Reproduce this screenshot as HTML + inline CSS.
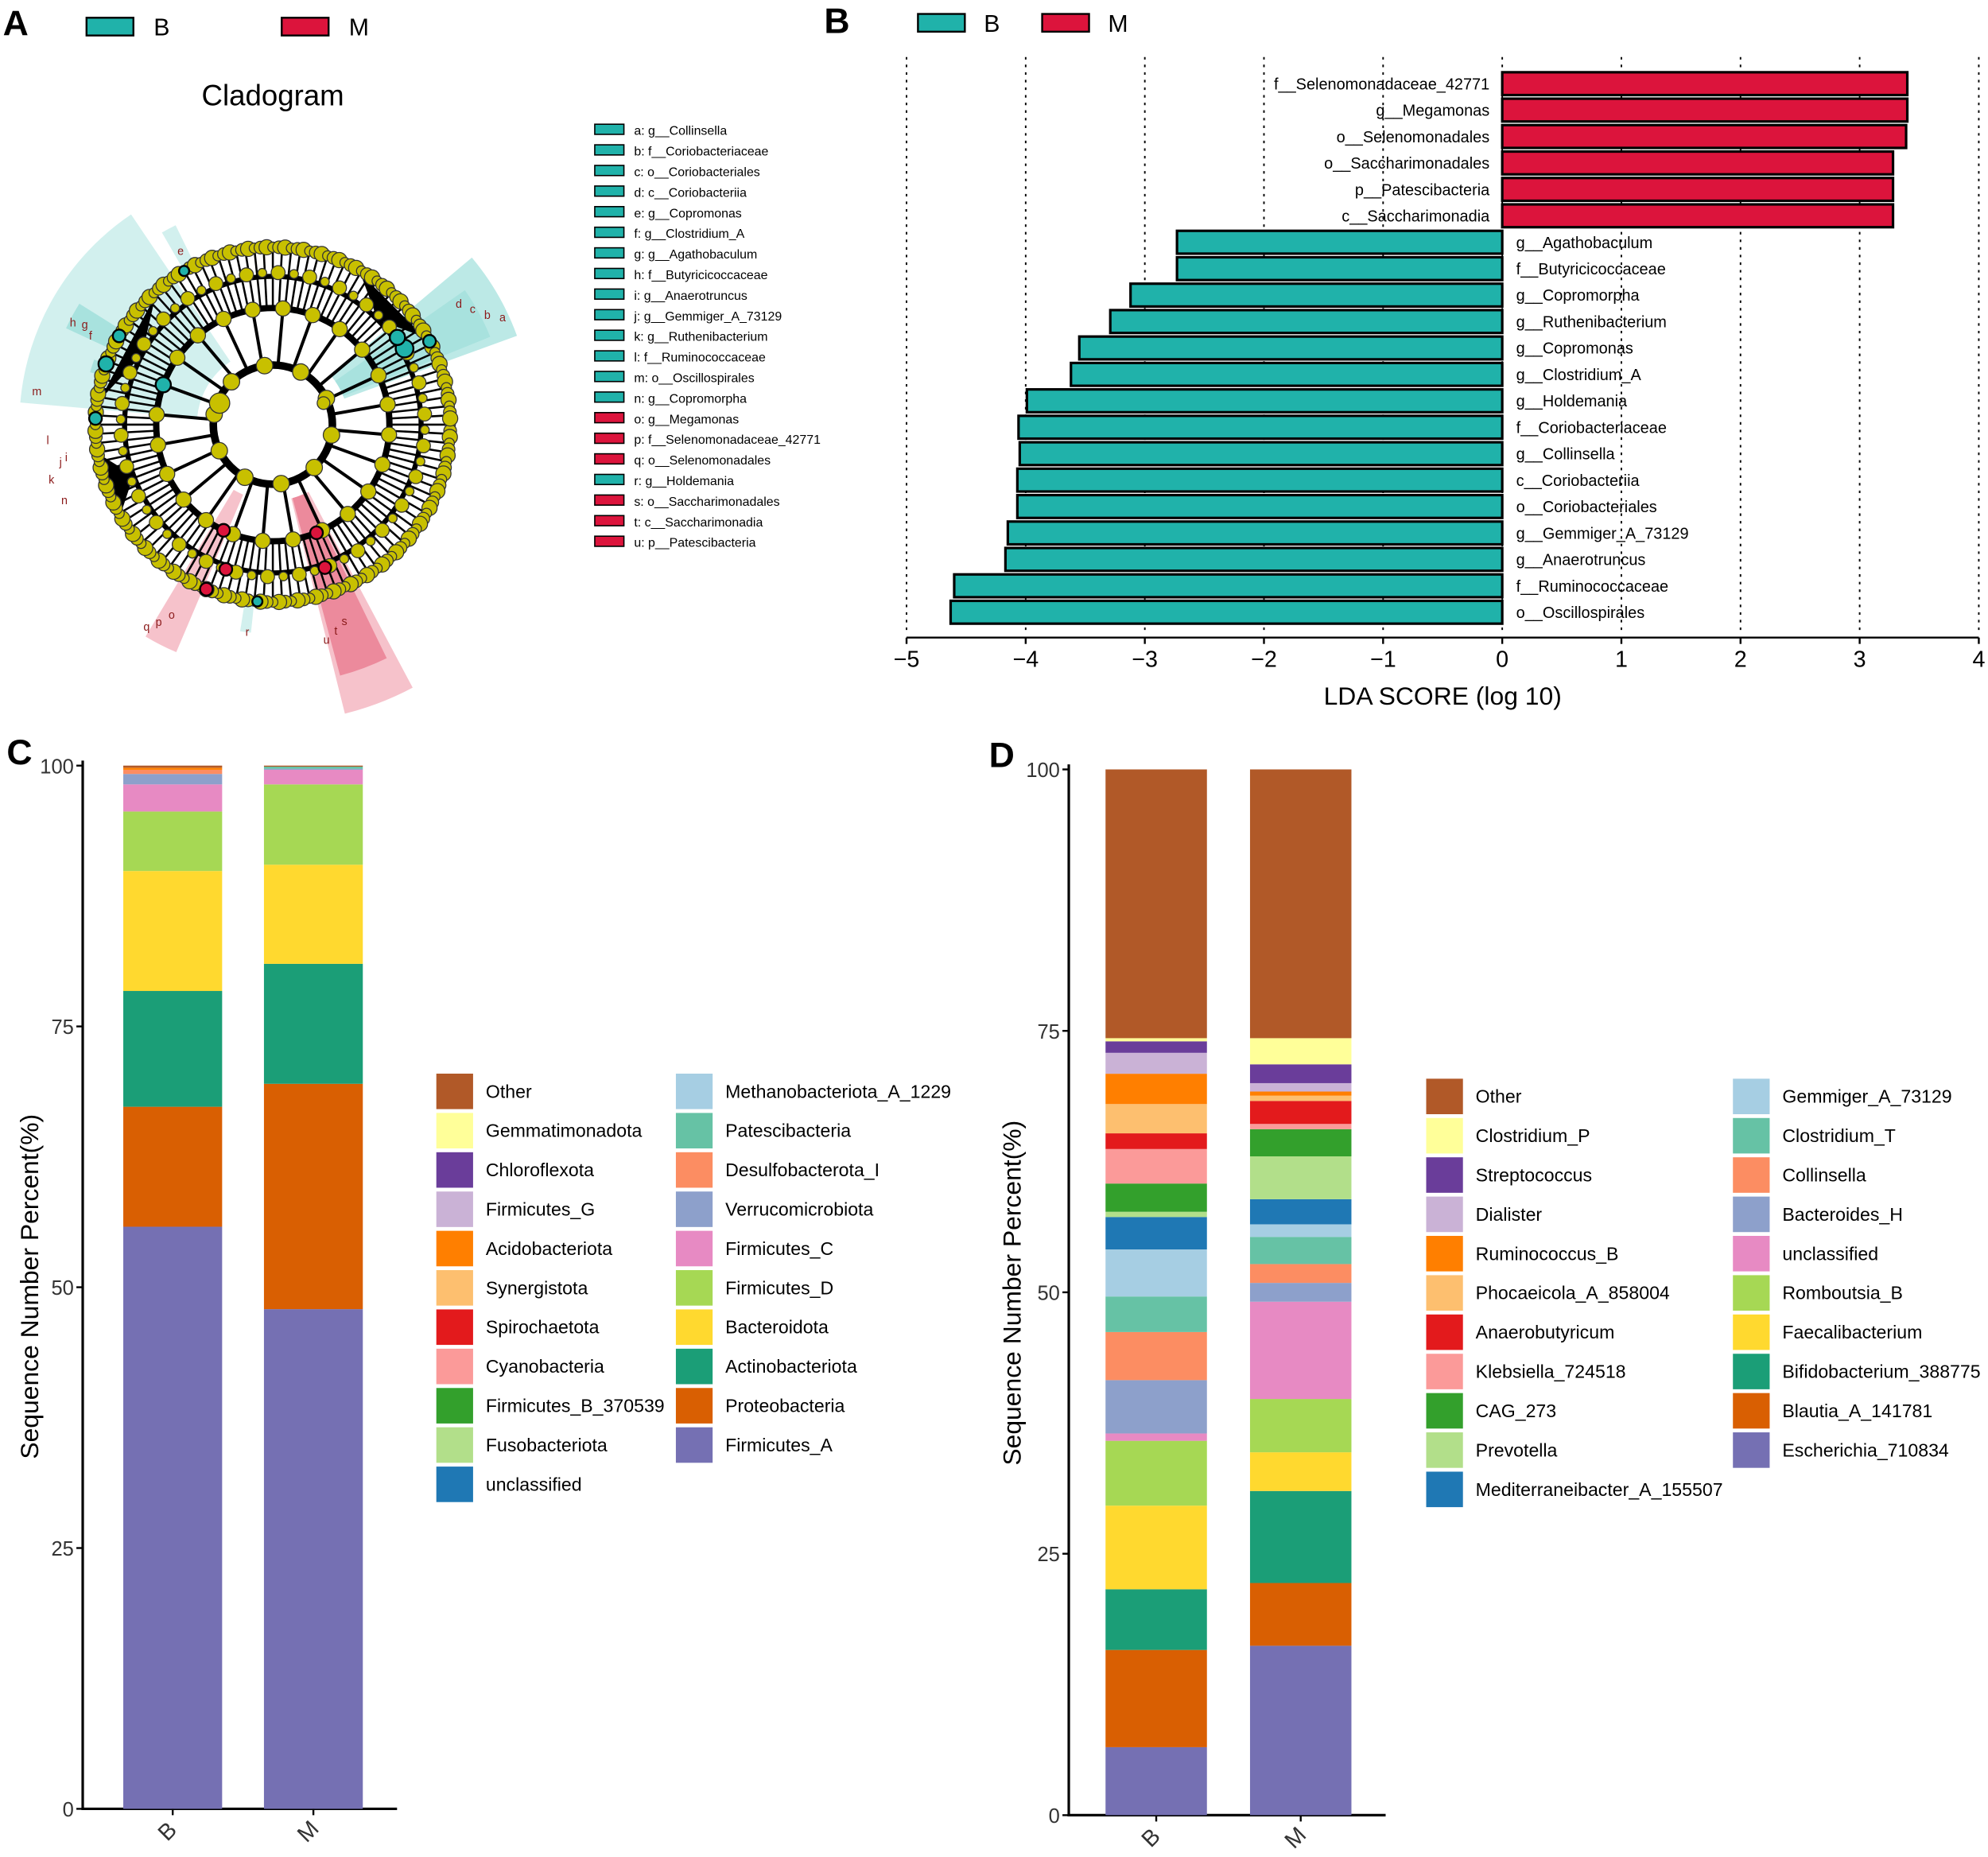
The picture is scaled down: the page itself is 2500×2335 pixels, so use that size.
<!DOCTYPE html>
<html><head><meta charset="utf-8">
<style>
html,body{margin:0;padding:0;background:#fff;}
svg{display:block;font-family:"Liberation Sans",Arial,sans-serif;}
</style></head>
<body>
<svg id="root" xmlns="http://www.w3.org/2000/svg" width="2500" height="2335" viewBox="0 0 1568 1465">
<rect x="0" y="0" width="1568" height="1465" fill="#fff"/>
<g id="panelA"></g>
<g id="panelB"></g>
<g id="panelC"></g>
<g id="panelD"></g>
</svg>
<script>
// ---------- DATA ----------
const ldaLabels = ["f__Selenomonadaceae_42771","g__Megamonas","o__Selenomonadales","o__Saccharimonadales","p__Patescibacteria","c__Saccharimonadia","g__Agathobaculum","f__Butyricicoccaceae","g__Copromorpha","g__Ruthenibacterium","g__Copromonas","g__Clostridium_A","g__Holdemania","f__Coriobacteriaceae","g__Collinsella","c__Coriobacteriia","o__Coriobacteriales","g__Gemmiger_A_73129","g__Anaerotruncus","f__Ruminococcaceae","o__Oscillospirales"];
const ldaValues = [3.40,3.40,3.39,3.28,3.28,3.28,-2.73,-2.73,-3.12,-3.29,-3.55,-3.62,-3.99,-4.06,-4.05,-4.07,-4.07,-4.15,-4.17,-4.60,-4.63];
const ldaTicks = [-5,-4,-3,-2,-1,0,1,2,3,4];

const cladoLegend = ["a: g__Collinsella","b: f__Coriobacteriaceae","c: o__Coriobacteriales","d: c__Coriobacteriia","e: g__Copromonas","f: g__Clostridium_A","g: g__Agathobaculum","h: f__Butyricicoccaceae","i: g__Anaerotruncus","j: g__Gemmiger_A_73129","k: g__Ruthenibacterium","l: f__Ruminococcaceae","m: o__Oscillospirales","n: g__Copromorpha","o: g__Megamonas","p: f__Selenomonadaceae_42771","q: o__Selenomonadales","r: g__Holdemania","s: o__Saccharimonadales","t: c__Saccharimonadia","u: p__Patescibacteria"];
const cladoGroup = ["B","B","B","B","B","B","B","B","B","B","B","B","B","B","M","M","M","B","M","M","M"];

const groups = ["B","M"];
const yTicks = [0,25,50,75,100];
const phylumNames = ["Other","Gemmatimonadota","Chloroflexota","Firmicutes_G","Acidobacteriota","Synergistota","Spirochaetota","Cyanobacteria","Firmicutes_B_370539","Fusobacteriota","unclassified","Methanobacteriota_A_1229","Patescibacteria","Desulfobacterota_I","Verrucomicrobiota","Firmicutes_C","Firmicutes_D","Bacteroidota","Actinobacteriota","Proteobacteria","Firmicutes_A"];
const phylumB = [0.2,0,0,0,0.2,0,0,0,0,0,0,0,0,0.4,1.0,2.6,5.7,11.5,11.1,11.5,55.8];
const phylumM = [0.1,0,0,0,0,0,0,0,0,0,0,0,0.2,0,0.1,1.4,7.7,9.5,11.5,21.6,47.9];
const genusNames = ["Other","Clostridium_P","Streptococcus","Dialister","Ruminococcus_B","Phocaeicola_A_858004","Anaerobutyricum","Klebsiella_724518","CAG_273","Prevotella","Mediterraneibacter_A_155507","Gemmiger_A_73129","Clostridium_T","Collinsella","Bacteroides_H","unclassified","Romboutsia_B","Faecalibacterium","Bifidobacterium_388775","Blautia_A_141781","Escherichia_710834"];
const genusB = [25.7,0.3,1.1,2.0,2.9,2.8,1.5,3.3,2.7,0.5,3.1,4.5,3.4,4.6,5.1,0.7,6.2,8.0,5.8,9.3,6.5];
const genusM = [25.7,2.5,1.8,0.8,0.4,0.5,2.2,0.5,2.6,4.1,2.4,1.2,2.6,1.8,1.8,9.3,5.1,3.7,8.8,6.0,16.2];
const palette = ["#B15928","#FFFF99","#6A3D9A","#CAB2D6","#FF7F00","#FDBF6F","#E31A1C","#FB9A99","#33A02C","#B2DF8A","#1F78B4","#A6CEE3","#66C2A5","#FC8D62","#8DA0CB","#E78AC3","#A6D854","#FFD92F","#1B9E77","#D95F02","#7570B3"];

const NS="http://www.w3.org/2000/svg";
function mk(parent,tag,attrs,text){const e=document.createElementNS(NS,tag);for(const k in attrs)e.setAttribute(k,attrs[k]);if(text!==undefined)e.textContent=text;parent.appendChild(e);return e;}
const TEAL="#20B2AA", RED="#DC143C";

// ---------- Panel letters ----------
const root=document.getElementById('root');
[["A",2,28],["B",650,26],["C",5,603],["D",780,605]].forEach(([t,x,y])=>{
  const e=mk(root,'text',{x:x,y:y,'font-size':28,'font-weight':'bold',fill:'#000'},t);
  
  
});

// ---------- Panel A ----------
(function(){
  const g=document.getElementById('panelA');
  [["B",68,TEAL],["M",222,RED]].forEach(([t,x,c])=>{
    const r=mk(g,'rect',{x:x,y:14,width:37,height:14,fill:c,stroke:'#000','stroke-width':1.5});
    
    
    const tx=mk(g,'text',{x:x+53,y:28,'font-size':19},t);
    
    
  });
  const ti=mk(g,'text',{x:215,y:83,'font-size':23,'text-anchor':'middle'},"Cladogram");
  
  
  const cx=215,cy=335;
  function pol(r,a){const t=a*Math.PI/180;return [cx+r*Math.cos(t),cy+r*Math.sin(t)];}
  function wedge(r0,r1,a0,a1,fill,name){
    const p0=pol(r0,a0),p1=pol(r1,a0),p2=pol(r1,a1),p3=pol(r0,a1);
    const d=`M${p0}L${p1}A${r1},${r1} 0 0 1 ${p2}L${p3}A${r0},${r0} 0 0 0 ${p0}Z`;
    const e=mk(g,'path',{d:d,fill:fill});
    
    
  }
  wedge(60,200,185,236,'#D2F0EE','clade-wedge-oscillospirales');
  wedge(60,140,186,236,'#D2F0EE','clade-wedge-inner');
  wedge(140,180,205,212,'#A8E2DE','clade-wedge-gh');
  wedge(140,150,196,200,'#A8E2DE','clade-wedge-ij');
  wedge(140,175,240,244,'#D2F0EE','clade-wedge-e');
  wedge(60,205,-40,-20,'#BCE9E6','clade-wedge-coriobacteria');
  wedge(60,185,-35,-22,'#A8E2DE','clade-wedge-coriobacteria-inner');
  wedge(60,235,62,76,'#F6C2CB','clade-wedge-patescibacteria');
  wedge(60,205,64,75,'#EC8A9C','clade-wedge-saccharimonadales');
  wedge(60,195,113,121,'#F6C2CB','clade-wedge-selenomonadales');
  wedge(140,165,96,99,'#D2F0EE','clade-wedge-holdemania');
  [[47,6],[92,5],[117,4]].forEach(([r,w],i)=>{
    const c=mk(g,'circle',{cx:cx,cy:cy,r:r,fill:'none',stroke:'#000','stroke-width':w});
    
    
  });
  const lines=mk(g,'g',{stroke:'#000','stroke-width':1.6});
  
  
  for(let i=0;i<120;i++){const a=i*3;const p=pol(92,a),q=pol(138,a);mk(lines,'line',{x1:p[0],y1:p[1],x2:q[0],y2:q[1]});}
  for(let i=0;i<24;i++){const a=i*15+5;const p=pol(47,a),q=pol(92,a);mk(lines,'line',{x1:p[0],y1:p[1],x2:q[0],y2:q[1],'stroke-width':2.5});}
  [[188,228],[150,170],[300,330]].forEach(([a0,a1],i)=>{
    const p0=pol(117,(a0+a1)/2),p1=pol(138,a0),p2=pol(138,a1);
    const e=mk(g,'path',{d:`M${p0}L${p1}L${p2}Z`,fill:'#000'});
    
    
  });
  const dots=mk(g,'g',{stroke:'#333','stroke-width':0.8});
  
  
  for(let i=0;i<180;i++){const a=i*2;const p=pol(140,a);mk(dots,'circle',{cx:p[0],cy:p[1],r:4+(i%3),fill:'#C8C000'});}
  for(let i=0;i<60;i++){const a=i*6+2;const p=pol(120,a);mk(dots,'circle',{cx:p[0],cy:p[1],r:3.5+(i%2)*2,fill:'#C8C000'});}
  for(let i=0;i<24;i++){const a=i*15+5;const p=pol(92,a);mk(dots,'circle',{cx:p[0],cy:p[1],r:6,fill:'#C8C000'});}
  for(let i=0;i<10;i++){const a=i*36+10;const p=pol(47,a);mk(dots,'circle',{cx:p[0],cy:p[1],r:6.5,fill:'#C8C000'});}
  mk(dots,'circle',{cx:173,cy:318,r:8,fill:'#C8C000'});
  mk(dots,'circle',{cx:255,cy:318,r:5,fill:'#C8C000'});
  [[120,-30,TEAL,7],[120,-35,TEAL,6],[140,-28,TEAL,5],[92,200,TEAL,6],[140,200,TEAL,6],[140,210,TEAL,5],[140,240,TEAL,4],[140,182,TEAL,5],
   [120,108,RED,5],[92,115,RED,5],[140,112,RED,5],[120,70,RED,5],[92,68,RED,5],[140,95,TEAL,4]].forEach(([r,a,c,s])=>{
    const p=pol(r,a);mk(dots,'circle',{cx:p[0],cy:p[1],r:s,fill:c,stroke:'#000','stroke-width':1.5});
  });
  [["e",242,155],["f",206,160],["g",208,168],["h",207,177],["m",188,188],["a",335,200],["b",333,190],["c",330,182],["d",327,175],["s",70,165],["t",73,170],["u",76,175],["o",118,170],["p",120,180],["q",122,188],["r",97,165],["l",176,178],["k",166,180],["j",170,170],["i",171,165],["n",160,175]].forEach(([t,a,r])=>{
    const p=pol(r,a);const e=mk(g,'text',{x:p[0],y:p[1]+3,'font-size':9,fill:'#8B1A1A','text-anchor':'middle'},t);
    
    
  });
  cladoLegend.forEach((t,i)=>{
    const y=103+i*16.25;
    const r=mk(g,'rect',{x:469,y:y-5,width:23,height:8,fill:cladoGroup[i]==="B"?TEAL:RED,stroke:'#000','stroke-width':1});
    
    
    const tx=mk(g,'text',{x:500,y:y+3.5,'font-size':10},t);
    
    
  });
})();

// ---------- Panel B ----------
(function(){
  const g=document.getElementById('panelB');
  const x0=1185, ppu=94, yTop=66, step=20.85, bh=18;
  const X=v=>x0+v*ppu;
  [["B",724,TEAL],["M",822,RED]].forEach(([t,x,c])=>{
    const r=mk(g,'rect',{x:x,y:11,width:37,height:14,fill:c,stroke:'#000','stroke-width':1.5});
    
    
    const tx=mk(g,'text',{x:x+52,y:25,'font-size':19},t);
    
    
  });
  ldaTicks.forEach(v=>{
    const l=mk(g,'line',{x1:X(v),y1:45,x2:X(v),y2:500,stroke:'#000','stroke-width':1.2,'stroke-dasharray':'2,4'});
    
    
  });
  ldaValues.forEach((v,i)=>{
    const yc=yTop+i*step;
    const xa=Math.min(X(0),X(v)), w=Math.abs(X(v)-X(0));
    const r=mk(g,'rect',{x:xa,y:yc-bh/2,width:w,height:bh,fill:v>0?RED:TEAL,stroke:'#000','stroke-width':2});
    
    
    const t=v>0?mk(g,'text',{x:X(0)-10,y:yc+4.5,'font-size':12.5,'text-anchor':'end'},ldaLabels[i]):mk(g,'text',{x:X(0)+11,y:yc+4.5,'font-size':12.5},ldaLabels[i]);
    
    
  });
  const ax=mk(g,'line',{x1:X(-5),y1:503,x2:X(4),y2:503,stroke:'#000','stroke-width':1.5});
  
  
  ldaTicks.forEach(v=>{
    mk(g,'line',{x1:X(v),y1:503,x2:X(v),y2:508,stroke:'#000','stroke-width':1.5});
    const t=mk(g,'text',{x:X(v),y:526,'font-size':18,'text-anchor':'middle'},v<0?'\u2212'+(-v):String(v));
    
    
  });
  const tt=mk(g,'text',{x:1138,y:556,'font-size':20,'text-anchor':'middle'},"LDA SCORE (log 10)");
  
  
})();

// ---------- Stacked bar panels ----------
function stacked(gid,o){
  const g=document.getElementById(gid);
  const Y=v=>o.y0-v*(o.y0-o.y100)/100;
  const ya=mk(g,'line',{x1:o.ax,y1:o.y100-4,x2:o.ax,y2:o.y0+1,stroke:'#000','stroke-width':2});
  
  
  const xa=mk(g,'line',{x1:o.ax-1,y1:o.y0,x2:o.axEnd,y2:o.y0,stroke:'#000','stroke-width':2});
  
  
  yTicks.forEach(v=>{
    mk(g,'line',{x1:o.ax-5,y1:Y(v),x2:o.ax,y2:Y(v),stroke:'#000','stroke-width':1.5});
    const t=mk(g,'text',{x:o.ax-7,y:Y(v)+6,'font-size':16,'text-anchor':'end',fill:'#333'},String(v));
    
    
  });
  const yt=mk(g,'text',{x:0,y:0,'font-size':20,'text-anchor':'middle',transform:`translate(${o.titleX},${o.titleY}) rotate(-90)`},"Sequence Number Percent(%)");
  
  
  [o.b,o.m].forEach((vals,gi)=>{
    const bx=o.barX[gi];
    let cum=0;
    for(let i=vals.length-1;i>=0;i--){
      const v=vals[i]; if(v<=0) continue;
      const r=mk(g,'rect',{x:bx,y:Y(cum+v),width:o.bw,height:Y(cum)-Y(cum+v),fill:palette[i]});
      
      
      cum+=v;
    }
    const cxp=bx+o.bw/2;
    mk(g,'line',{x1:cxp,y1:o.y0,x2:cxp,y2:o.y0+5,stroke:'#000','stroke-width':1.5});
    const t=mk(g,'text',{x:0,y:0,'font-size':18,'text-anchor':'middle',fill:'#333',transform:`translate(${cxp},${o.y0+22}) rotate(-45)`},groups[gi]);
    
    
  });
  o.names.forEach((n,i)=>{
    const col=i<11?0:1, row=i<11?i:i-11;
    const y=o.legY+row*31;
    const r=mk(g,'rect',{x:o.legX[col],y:y-14,width:29,height:28,fill:palette[i]});
    
    
    const t=mk(g,'text',{x:o.legX[col]+39,y:y+5,'font-size':14.5},n);
    
    
  });
}
stacked('panelC',{y0:1427,y100:604,ax:65,axEnd:313,barX:[97,208],bw:78,b:phylumB,m:phylumM,names:phylumNames,legX:[344,533],legY:861,titleX:30,titleY:1015});
stacked('panelD',{y0:1432,y100:607,ax:843,axEnd:1093,barX:[872,986],bw:80,b:genusB,m:genusM,names:genusNames,legX:[1125,1367],legY:865,titleX:805,titleY:1020});
</script>
</body></html>
